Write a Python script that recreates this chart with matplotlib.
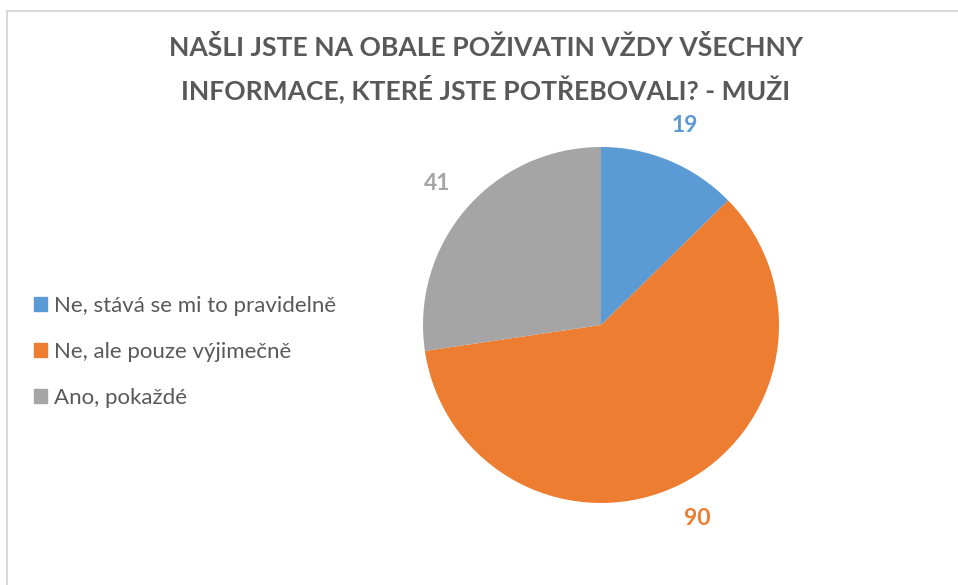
import numpy as np
import matplotlib
matplotlib.use("Agg")
import matplotlib.pyplot as plt
from matplotlib.lines import Line2D

# chart data
categories = ["Ne, stává se mi to pravidelně", "Ne, ale pouze výjimečně", "Ano, pokaždé"]
values = [19, 90, 41]
colors = ["#5B9BD5", "#ED7D31", "#A5A5A5"]
title = "NAŠLI JSTE NA OBALE POŽIVATIN VŽDY VŠECHNY\nINFORMACE, KTERÉ JSTE POTŘEBOVALI? - MUŽI"

plt.rcParams["font.family"] = ["Lato", "DejaVu Sans"]
TEXT = "#595959"

W, H = 958, 585
fig = plt.figure(figsize=(W / 100, H / 100), dpi=100)
fig.patch.set_facecolor("white")

# thin grey frame on top and left (chart area border)
fig.add_artist(Line2D([6.5 / W, 6.5 / W], [0, 1 - 11 / H], color="#D9D9D9", lw=1.5))
fig.add_artist(Line2D([6.5 / W, 1], [1 - 11 / H, 1 - 11 / H], color="#D9D9D9", lw=1.5))

fig.text(486 / W, 1 - 69.5 / H, title, ha="center", va="center", fontsize=19.1,
         fontweight="bold", color=TEXT, linespacing=1.58)

# pie axes: centre (601, 325) px, radius 178 px
cx, cy, r = 601, 325, 178
ax = fig.add_axes([(cx - r) / W, (H - cy - r) / H, 2 * r / W, 2 * r / H])
wedges, _ = ax.pie(values, colors=colors, startangle=90, counterclock=False,
                   wedgeprops=dict(linewidth=0))
ax.set_xlim(-1, 1)
ax.set_ylim(-1, 1)
ax.set_aspect("equal")
ax.axis("off")

for w, v, c in zip(wedges, values, colors):
    ang = np.deg2rad((w.theta1 + w.theta2) / 2)
    ax.text(1.215 * np.cos(ang), 1.215 * np.sin(ang), str(v), ha="center", va="center",
            fontsize=16.5, fontweight="bold", color=c, clip_on=False)

handles = [plt.Rectangle((0, 0), 1, 1, color=c) for c in colors]
fig.legend(handles, categories, loc="center left", bbox_to_anchor=(34 / W, 1 - 352 / H),
           frameon=False, fontsize=16, labelcolor=TEXT, handlelength=0.58,
           handleheight=0.58, handletextpad=0.3, labelspacing=1.17,
           borderpad=0, borderaxespad=0)

fig.savefig("out.png", dpi=100)
